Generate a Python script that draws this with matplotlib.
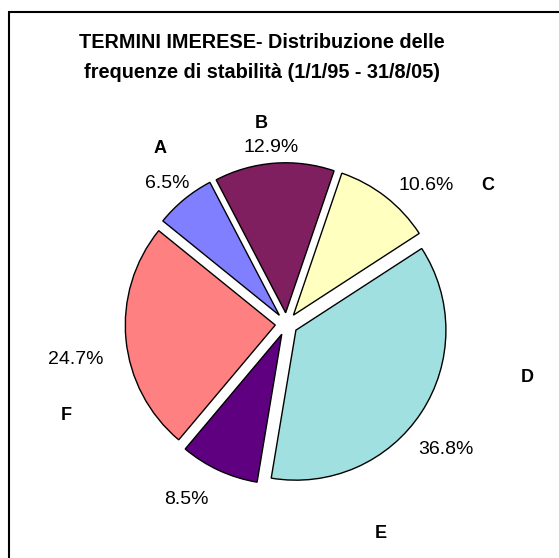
import matplotlib
matplotlib.use("Agg")
import matplotlib.pyplot as plt
from matplotlib import font_manager
from matplotlib.patches import Rectangle

categories = ["A", "B", "C", "D", "E", "F"]
values = [6.5, 12.9, 10.6, 36.8, 8.5, 24.7]
pct_labels = ["6.5%", "12.9%", "10.6%", "36.8%", "8.5%", "24.7%"]
colors = ["#7F7FFF", "#7F1F5F", "#FFFFC0", "#A0E0E0", "#5F0080", "#FF8080"]
title_lines = ["TERMINI IMERESE- Distribuzione delle",
               "frequenze di stabilità (1/1/95 - 31/8/05)"]

W, H = 559, 558
DPI = 100

def has_font(name):
    try:
        font_manager.findfont(font_manager.FontProperties(family=name), fallback_to_default=False)
        return True
    except Exception:
        return False

narrow = "Liberation Sans Narrow" if has_font("Liberation Sans Narrow") else None
base = "Liberation Sans"

fig = plt.figure(figsize=(W / DPI, H / DPI), dpi=DPI)
fig.patch.set_facecolor("white")

# frame
fig.patches.append(Rectangle((9 / W, -0.1), 1.2, (H - 12) / H + 0.1, transform=fig.transFigure,
                             fill=False, edgecolor="black", linewidth=1.5))

def px(x, y):
    return x / W, 1 - y / H

# pie axes
cx, cy, R, half = 286.5, 324, 150, 170
ax = fig.add_axes([(cx - half) / W, (H - cy - half) / H, 2 * half / W, 2 * half / H])
ax.pie(values, colors=colors, startangle=141, counterclock=False,
       explode=[0.075] * len(values), radius=1.0,
       wedgeprops=dict(edgecolor="black", linewidth=1.0))
lim = half / R
ax.set_xlim(-lim, lim)
ax.set_ylim(-lim, lim)
ax.set_aspect("equal")
ax.axis("off")

# title
if narrow:
    tfam, tsize = narrow, 15
else:
    tfam, tsize = base, 14.3
fig.text(*px(262, 43), title_lines[0], ha="center", va="center", fontsize=tsize,
         fontweight="bold", family=tfam)
fig.text(*px(262, 73), title_lines[1], ha="center", va="center", fontsize=tsize,
         fontweight="bold", family=tfam)

# labels
cat_pos = [(160, 148), (261, 124), (488, 185), (527, 377), (381, 533), (66, 416)]
pct_pos = [(167, 184), (271, 147), (426, 185), (446, 449), (186, 500), (76, 360)]
for c, p in zip(categories, cat_pos):
    fig.text(*px(*p), c, ha="center", va="center", fontsize=13, fontweight="bold", family=base)
for t, p in zip(pct_labels, pct_pos):
    fig.text(*px(*p), t, ha="center", va="center", fontsize=14, family=base)

fig.savefig("out.png", dpi=DPI)
